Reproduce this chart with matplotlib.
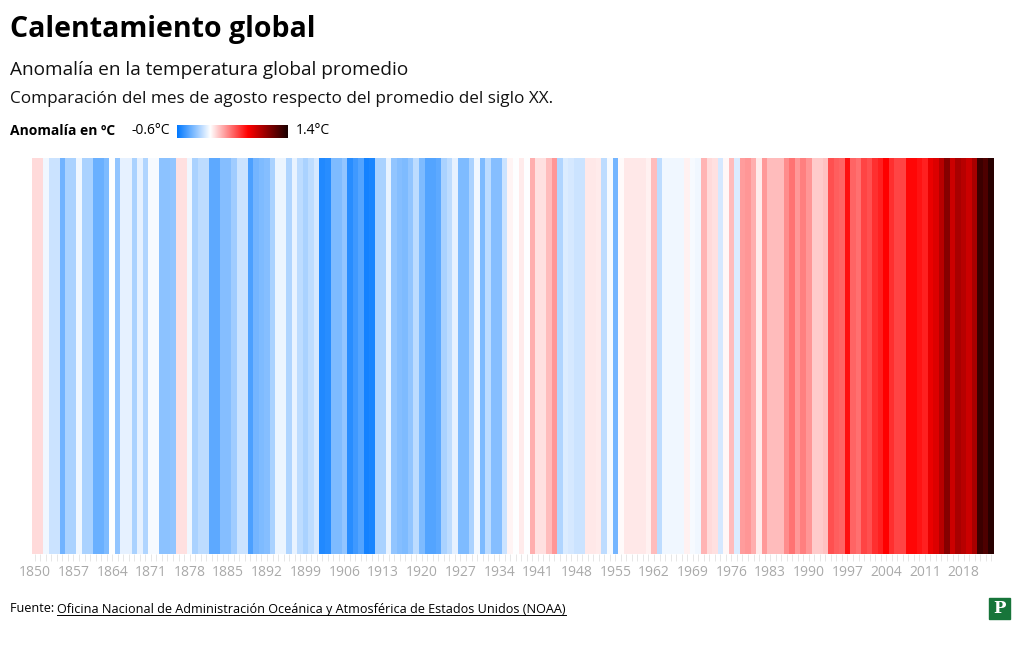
import numpy as np
import matplotlib
matplotlib.use("Agg")
import matplotlib.pyplot as plt
from matplotlib.colors import LinearSegmentedColormap, Normalize
from matplotlib.lines import Line2D
from matplotlib.patches import Rectangle

plt.rcParams["font.family"] = ["Open Sans", "DejaVu Sans"]

# anomalia de agosto (ºC) respecto del promedio del siglo XX, 1850-2023
years = list(range(1850, 2024))
anomaly = [
    # 1850-1869
    0.10, 0.10, -0.03, -0.12, -0.12, -0.33, -0.20, -0.20, -0.03, -0.20,
    -0.20, -0.35, -0.35, -0.30, 0.00, -0.25, -0.06, -0.06, -0.20, -0.06,
    # 1870-1889
    -0.18, -0.02, -0.02, -0.27, -0.27, -0.25, 0.08, 0.08, -0.03, -0.20,
    -0.15, -0.15, -0.38, -0.38, -0.28, -0.28, -0.22, -0.12, -0.12, -0.42,
    # 1890-1909
    -0.32, -0.30, -0.28, -0.20, -0.04, -0.04, -0.18, -0.05, -0.15, -0.20,
    -0.15, -0.10, -0.52, -0.50, -0.30, -0.30, -0.25, -0.50, -0.45, -0.40,
    # 1910-1929
    -0.55, -0.53, -0.20, -0.20, -0.05, -0.25, -0.28, -0.30, -0.25, -0.15,
    -0.30, -0.40, -0.40, -0.38, -0.20, -0.15, -0.06, -0.30, -0.30, -0.20,
    # 1930-1949
    -0.03, -0.30, -0.15, -0.28, -0.28, -0.12, 0.03, 0.00, 0.05, 0.00,
    0.22, 0.08, 0.08, 0.18, 0.28, -0.18, -0.08, -0.10, -0.12, -0.12,
    # 1950-1969
    0.06, 0.06, 0.05, -0.15, -0.02, -0.32, 0.01, 0.06, 0.06, 0.06,
    0.06, 0.04, 0.18, -0.15, -0.03, -0.03, -0.03, -0.03, 0.04, -0.02,
    # 1970-1989
    -0.03, 0.20, 0.10, 0.08, -0.10, 0.02, 0.18, -0.08, 0.26, 0.28,
    0.22, 0.05, 0.27, 0.18, 0.18, 0.18, 0.30, 0.37, 0.27, 0.34,
    # 1990-2009
    0.28, 0.14, 0.14, 0.16, 0.47, 0.43, 0.41, 0.64, 0.41, 0.38,
    0.50, 0.47, 0.55, 0.59, 0.68, 0.55, 0.50, 0.50, 0.66, 0.66,
    # 2010-2023
    0.63, 0.59, 0.74, 0.79, 0.90, 1.06, 0.84, 0.95, 0.90, 0.84,
    0.95, 1.29, 1.23, 1.35,
]
tick_years = list(range(1850, 2024, 7))

vmin, vmax = -0.6, 1.4
stops = [(-0.6, "#0078ff"), (0.0, "#ffffff"), (0.68, "#ff0000"), (1.4, "#1a0000")]
cmap = LinearSegmentedColormap.from_list(
    "anom", [((v - vmin) / (vmax - vmin), c) for v, c in stops])
norm = Normalize(vmin=vmin, vmax=vmax)

W, H = 1020, 650
fig = plt.figure(figsize=(W / 100, H / 100), dpi=100)


def fx(px):
    return px / W


def fy(py):
    return 1 - py / H


# titulos
fig.text(fx(10), fy(29), "Calentamiento global", fontsize=20.5, fontweight="bold",
         va="center", ha="left", color="#000000")
fig.text(fx(10), fy(70), "Anomalía en la temperatura global promedio",
         fontsize=13.7, va="center", ha="left", color="#111111")
fig.text(fx(10), fy(99), "Comparación del mes de agosto respecto del promedio del siglo XX.",
         fontsize=12.3, va="center", ha="left", color="#111111")

# leyenda
fig.text(fx(10), fy(131), "Anomalía en ºC", fontsize=10, fontweight="bold",
         va="center", ha="left")
fig.text(fx(170), fy(131), "-0.6°C", fontsize=10, va="center", ha="right")
fig.text(fx(296), fy(131), "1.4°C", fontsize=10, va="center", ha="left")
cax = fig.add_axes([fx(177), fy(138), fx(111), 13 / H])
grad = np.linspace(vmin, vmax, 256).reshape(1, -1)
cax.imshow(grad, cmap=cmap, norm=norm, aspect="auto", extent=[vmin, vmax, 0, 1])
cax.set_axis_off()

# franjas
ax = fig.add_axes([fx(32), fy(554), fx(962), (554 - 158) / H])
data = np.array(anomaly).reshape(1, -1)
ax.imshow(data, cmap=cmap, norm=norm, aspect="auto", interpolation="nearest",
          extent=[years[0] - 0.5, years[-1] + 0.5, 0, 1])
ax.set_xlim(years[0] - 0.5, years[-1] + 0.5)
ax.set_ylim(0, 1)
ax.set_yticks([])
for s in ax.spines.values():
    s.set_visible(False)
ax.set_xticks(tick_years)
ax.set_xticklabels([str(y) for y in tick_years])
ax.set_xticks(years, minor=True)
ax.tick_params(axis="x", which="major", length=5, width=0.6, color="#e3e3e3",
               labelsize=10, labelcolor="#aaaaaa", pad=3)
ax.tick_params(axis="x", which="minor", length=5, width=0.6, color="#e3e3e3")

# fuente
t1 = fig.text(fx(10), fy(609), "Fuente: ", fontsize=9.1, va="center", ha="left")
fig.canvas.draw()
bb = t1.get_window_extent()
link = "Oficina Nacional de Administración Oceánica y Atmosférica de Estados Unidos (NOAA)"
t2 = fig.text(bb.x1 / W, fy(609), link, fontsize=9.1, va="center", ha="left")
fig.canvas.draw()
bb2 = t2.get_window_extent()
fig.add_artist(Line2D([bb2.x0 / W, bb2.x1 / W], [(bb2.y0 + 1) / H] * 2,
                      color="#000000", lw=0.7))

# logo
fig.add_artist(Rectangle((fx(989), fy(619)), fx(21), 21 / H, color="#17753a",
                         transform=fig.transFigure))
fig.text(fx(999.5), fy(608.5), "P", fontsize=12, fontweight="bold", color="white",
         family="DejaVu Serif", ha="center", va="center")

fig.savefig("out.png", dpi=100)
